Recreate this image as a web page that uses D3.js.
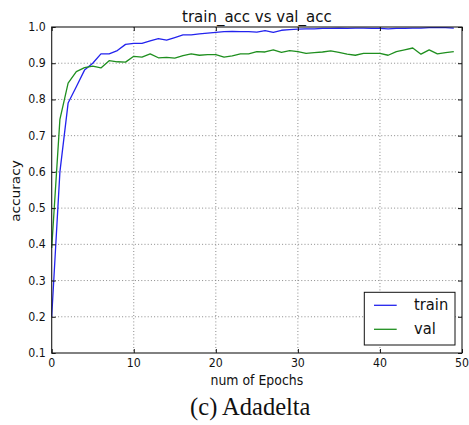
<!DOCTYPE html>
<html>
<head>
<meta charset="utf-8">
<script src="https://cdn.jsdelivr.net/npm/d3@7/dist/d3.min.js"></script>
<style>
  html, body { margin: 0; padding: 0; background: #fff; }
  svg { display: block; }
</style>
</head>
<body>
<svg id="chart" width="469" height="425"></svg>
<script>
// Training history (Adadelta optimiser), one value per epoch
const epochs = d3.range(0, 50);
const trainAcc = [0.20, 0.60, 0.79, 0.835, 0.881, 0.900, 0.926, 0.926, 0.935, 0.952,
                  0.955, 0.955, 0.962, 0.968, 0.964, 0.971, 0.978, 0.978, 0.981, 0.983,
                  0.985, 0.987, 0.988, 0.987, 0.987, 0.986, 0.990, 0.985, 0.991, 0.993,
                  0.994, 0.995, 0.995, 0.996, 0.996, 0.997, 0.996, 0.997, 0.997, 0.996,
                  0.996, 0.995, 0.996, 0.996, 0.997, 0.997, 0.998, 0.998, 0.998, 0.997];
const valAcc   = [0.39, 0.745, 0.845, 0.877, 0.888, 0.892, 0.887, 0.907, 0.904, 0.903,
                  0.919, 0.917, 0.926, 0.915, 0.916, 0.914, 0.921, 0.926, 0.922, 0.924,
                  0.924, 0.917, 0.920, 0.926, 0.926, 0.932, 0.931, 0.937, 0.930, 0.935,
                  0.932, 0.927, 0.929, 0.931, 0.934, 0.930, 0.925, 0.922, 0.927, 0.927,
                  0.927, 0.922, 0.932, 0.937, 0.942, 0.925, 0.937, 0.926, 0.929, 0.932];
const seriesNames = ["train", "val"];
const xTicks = [0, 10, 20, 30, 40, 50];
const yTicks = [0.1, 0.2, 0.3, 0.4, 0.5, 0.6, 0.7, 0.8, 0.9, 1.0];
const titleText = "train_acc vs val_acc";
const xLabel = "num of Epochs";
const yLabel = "accuracy";
const caption = "(c) Adadelta";

const colors = { train: "#2323ee", val: "#1f8f1f" };
const SY = 1.067; // glyphs in this figure are slightly taller than wide

const svg = d3.select("#chart");
const plotL = 51.7, plotR = 462, plotT = 27, plotB = 353;

const x = d3.scaleLinear().domain([0, 50]).range([plotL, plotR]);
const y = d3.scaleLinear().domain([0.1, 1.0]).range([plotB, plotT]);

const font = "'DejaVu Sans', sans-serif";

function txt(g, px, py, s, opts) {
  const t = g.append("text")
    .attr("transform", `translate(${px},${py}) scale(1,${SY})` + (opts.rotate ? ` rotate(${opts.rotate})` : ""))
    .attr("font-family", opts.family || font)
    .attr("font-size", opts.size)
    .attr("fill", opts.fill || "#111")
    .attr("text-anchor", opts.anchor || "middle")
    .text(s);
  return t;
}

// dotted grid
const grid = svg.append("g").attr("stroke", "#8a8a8a").attr("stroke-width", 1)
  .attr("stroke-dasharray", "1,2.2");
xTicks.slice(1, -1).forEach(v => grid.append("line")
  .attr("x1", x(v)).attr("x2", x(v)).attr("y1", plotT).attr("y2", plotB));
yTicks.slice(1, -1).forEach(v => grid.append("line")
  .attr("x1", plotL).attr("x2", plotR).attr("y1", y(v)).attr("y2", y(v)));

// series lines
const line = d3.line().x((d, i) => x(epochs[i])).y(d => y(d));
[["train", trainAcc], ["val", valAcc]].forEach(([name, vals]) => {
  svg.append("path").datum(vals)
    .attr("fill", "none")
    .attr("stroke", colors[name])
    .attr("stroke-width", 1.3)
    .attr("stroke-linejoin", "round")
    .attr("d", line);
});

// axes with inward ticks on all four sides
const tickLen = 4;
const axB = svg.append("g").attr("transform", `translate(0,${plotB})`)
  .call(d3.axisBottom(x).tickValues(xTicks).tickSize(-tickLen));
const axT = svg.append("g").attr("transform", `translate(0,${plotT})`)
  .call(d3.axisTop(x).tickValues(xTicks).tickSize(-tickLen));
const axL = svg.append("g").attr("transform", `translate(${plotL},0)`)
  .call(d3.axisLeft(y).tickValues(yTicks).tickSize(-tickLen));
const axR = svg.append("g").attr("transform", `translate(${plotR},0)`)
  .call(d3.axisRight(y).tickValues(yTicks).tickSize(-tickLen));

[axB, axT, axL, axR].forEach(a => {
  a.select(".domain").remove();
  a.selectAll(".tick line").attr("stroke", "#111").attr("stroke-width", 1);
  a.selectAll(".tick text").remove();
});

// tick labels (drawn as stretched text)
const labels = svg.append("g");
xTicks.forEach(v => txt(labels, x(v), 366.5, d3.format("d")(v), { size: 11 }));
yTicks.forEach(v => txt(labels, 45.7, y(v) + 4, d3.format(".1f")(v), { size: 11, anchor: "end" }));

// frame
svg.append("rect").attr("x", plotL).attr("y", plotT)
  .attr("width", plotR - plotL).attr("height", plotB - plotT)
  .attr("fill", "none").attr("stroke", "#1a1a1a").attr("stroke-width", 1.1);

// titles
txt(svg, (plotL + plotR) / 2, 21.5, titleText, { size: 15 });
txt(svg, (plotL + plotR) / 2, 385.3, xLabel, { size: 12.5 });
txt(svg, 19.5, (plotT + plotB) / 2 + 1, yLabel, { size: 12.8, rotate: -90 });

// legend
const lg = svg.append("g");
lg.append("rect").attr("x", 364.3).attr("y", 292.3).attr("width", 90.7).attr("height", 52.7)
  .attr("fill", "#fff").attr("stroke", "#111").attr("stroke-width", 1);
seriesNames.forEach((name, i) => {
  const ly = 305.3 + i * 24;
  lg.append("line").attr("x1", 374).attr("x2", 396.7).attr("y1", ly).attr("y2", ly)
    .attr("stroke", colors[name]).attr("stroke-width", 1.3);
  txt(lg, 414, ly + 5, name, { size: 14.7, anchor: "start" });
});

// caption under the figure
svg.append("text").attr("x", 250.3).attr("y", 415)
  .attr("font-family", "'Liberation Serif', 'Times New Roman', serif")
  .attr("font-size", 24.5).attr("fill", "#111").attr("text-anchor", "middle")
  .text(caption);
</script>
</body>
</html>
